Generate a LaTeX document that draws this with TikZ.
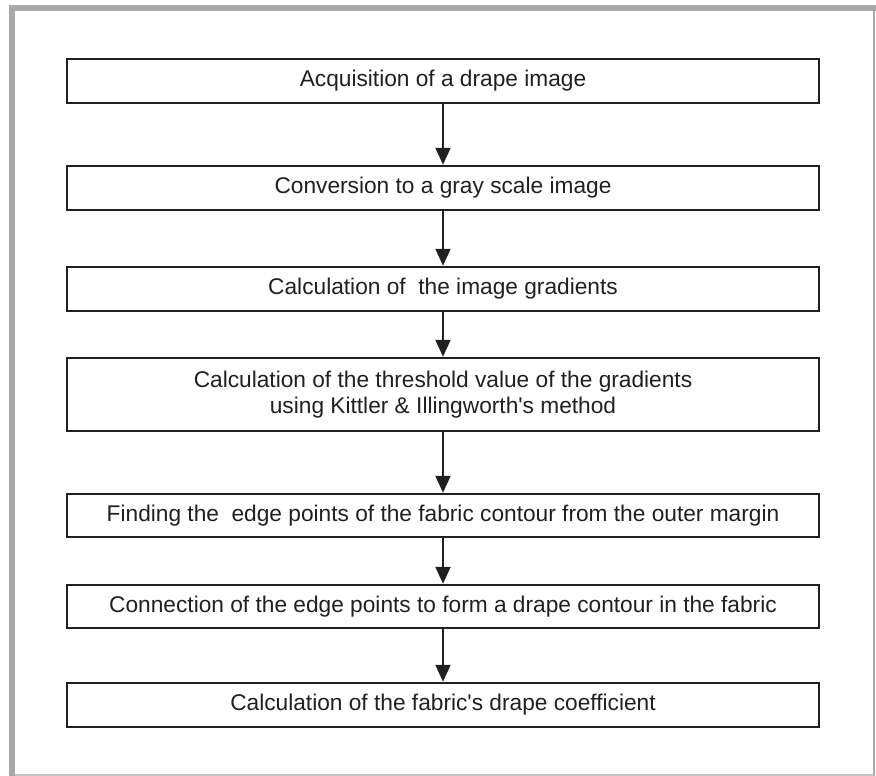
\documentclass[tikz,border=0pt]{standalone}
\usepackage{fontspec}
\setmainfont{Liberation Sans}
\usetikzlibrary{arrows.meta}
\definecolor{ink}{HTML}{231F20}
\definecolor{framegray}{HTML}{A7A9AC}
\begin{document}
\begin{tikzpicture}[x=1pt,y=-1pt,
  stepbox/.style={draw=ink, line width=2.5pt, minimum width=752pt, inner sep=0pt,
    font=\fontsize{22.7pt}{26pt}\selectfont, text=ink, align=center},
  flow/.style={draw=ink, line width=2pt, -{Triangle[length=17pt,width=15pt]}}]
\useasboundingbox (0,0) rectangle (876,776);
\fill[white] (0,0) rectangle (876,776);
% frame
\fill[framegray] (9,5) rectangle (876,11);
\fill[framegray] (9,5) rectangle (15,776);
\draw[framegray, line width=2pt] (874,11) -- (874,776);
\draw[framegray!70, line width=1.5pt] (15,775) -- (874,775);
% boxes
\node[stepbox, minimum height=44pt] (b1) at (443,81) {Acquisition of a drape image};
\node[stepbox, minimum height=44pt] (b2) at (443,188) {Conversion to a gray scale image};
\node[stepbox, minimum height=44pt] (b3) at (443,289) {Calculation of\ \ the image gradients};
\node[stepbox, minimum height=73pt] (b4) at (443,394.5) {Calculation of the threshold value of the gradients\\ using Kittler \& Illingworth\textquotesingle s method};
\node[stepbox, minimum height=43pt] (b5) at (443,515.5) {Finding the\ \ edge points of the fabric contour from the outer margin};
\node[stepbox, minimum height=43pt] (b6) at (443,606.5) {Connection of the edge points to form a drape contour in the fabric};
\node[stepbox, minimum height=44pt] (b7) at (443,705) {Calculation of the fabric\textquotesingle s drape coefficient};
% arrows
\draw[flow] (b1) -- (b2);
\draw[flow] (b2) -- (b3);
\draw[flow] (b3) -- (b4);
\draw[flow] (b4) -- (b5);
\draw[flow] (b5) -- (b6);
\draw[flow] (b6) -- (b7);
\end{tikzpicture}
\end{document}
